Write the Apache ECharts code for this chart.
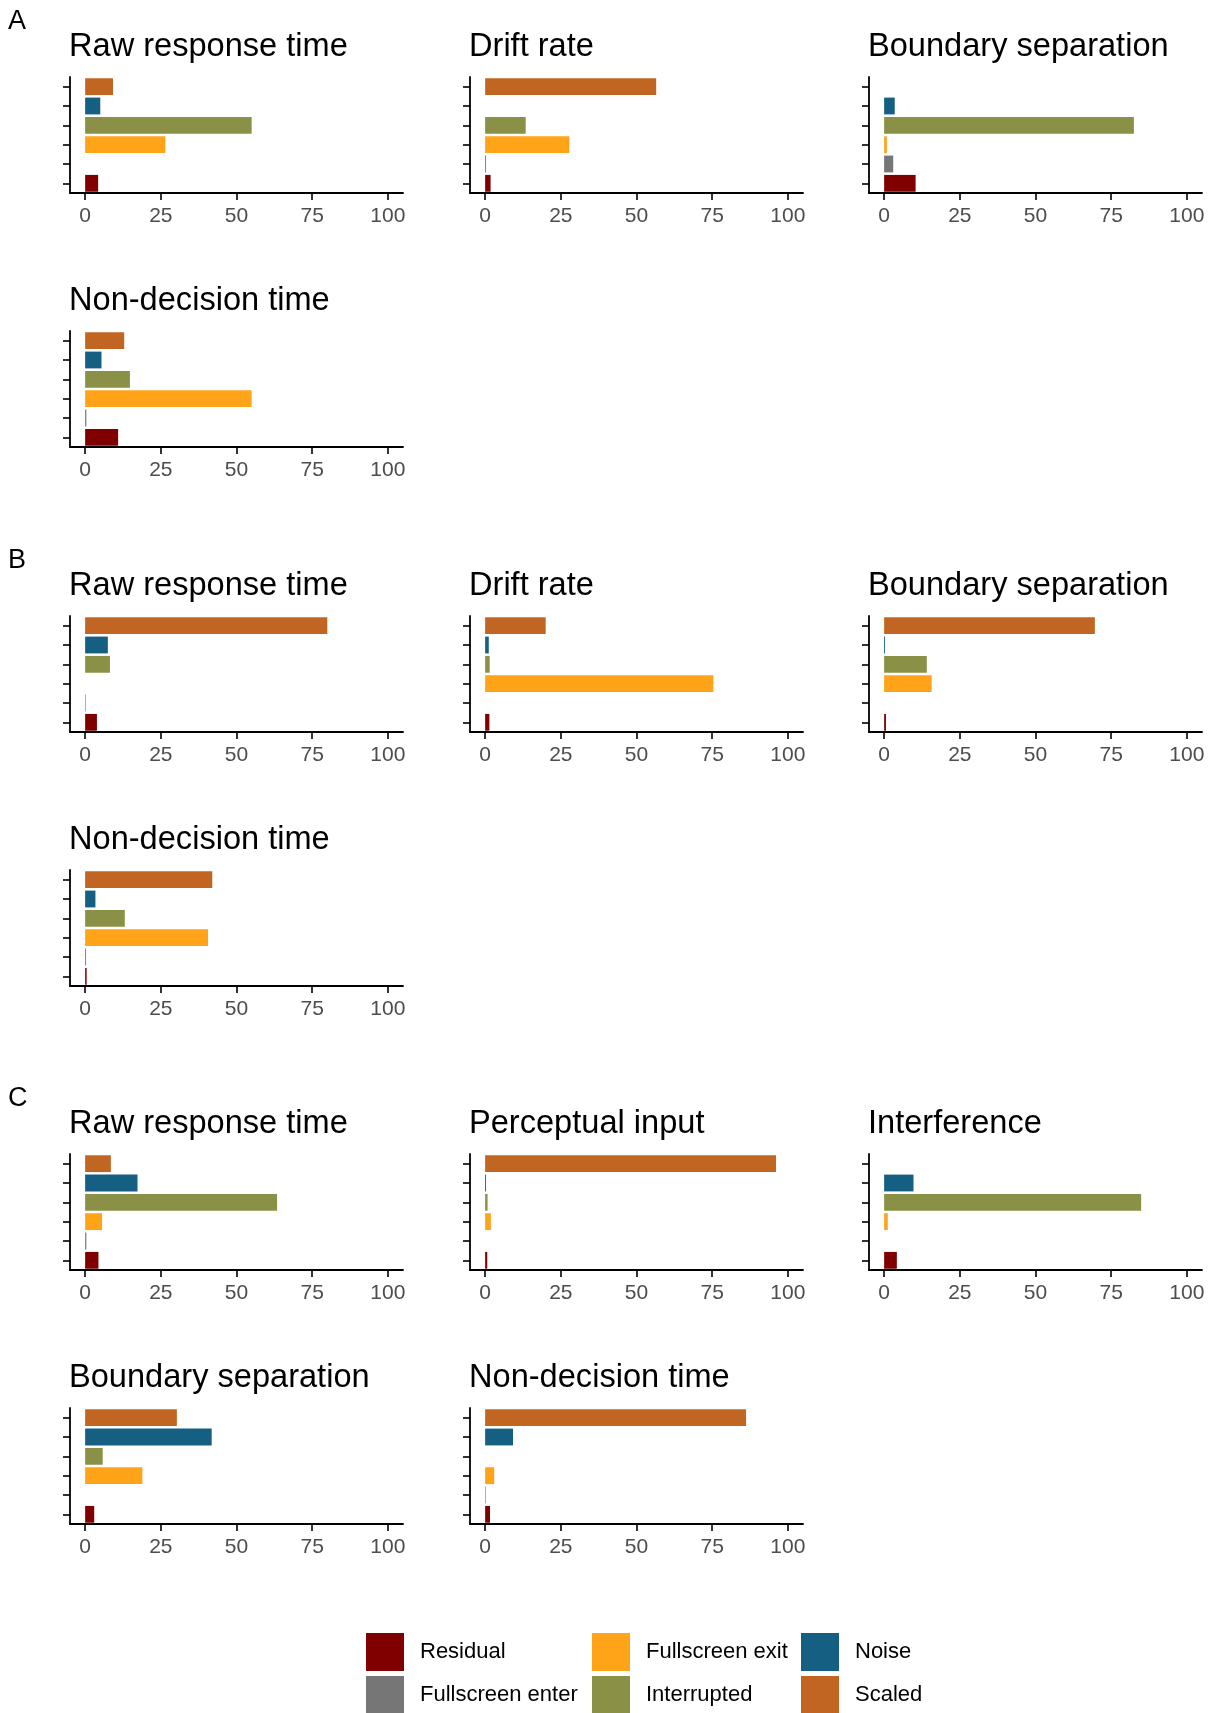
<!DOCTYPE html>
<html>
<head>
<meta charset="utf-8">
<title>Component attribution</title>
<script src="https://cdn.jsdelivr.net/npm/echarts@6/dist/echarts.min.js"></script>
<style>
  html, body { margin: 0; padding: 0; background: #fff; }
  #main { width: 1218px; height: 1713px; }
</style>
</head>
<body>
<div id="main"></div>
<script>
// Categories, listed bottom to top along each panel's y axis
const categories = ['Residual', 'Fullscreen enter', 'Fullscreen exit', 'Interrupted', 'Noise', 'Scaled'];
const categoryColors = ['#800000', '#767676', '#FFA319', '#8A9045', '#155F83', '#C16622'];
const xTicks = [0, 25, 50, 75, 100];

// Percentage values per panel (same order as categories)
const A_raw = [4.3, 0, 26.5, 55.0, 5.0, 9.2];
const A_drift = [1.8, 0.3, 27.8, 13.4, 0, 56.5];
const A_boundary = [10.4, 3.0, 0.9, 82.5, 3.5, 0];
const A_nondecision = [10.9, 0.4, 55.0, 14.8, 5.4, 12.9];

const B_raw = [3.9, 0.2, 0, 8.2, 7.5, 80.0];
const B_drift = [1.4, 0, 75.4, 1.5, 1.2, 20.0];
const B_boundary = [0.6, 0, 15.7, 14.1, 0.3, 69.6];
const B_nondecision = [0.5, 0.3, 40.6, 13.1, 3.4, 42.0];

const C_raw = [4.4, 0.4, 5.6, 63.4, 17.3, 8.5];
const C_perceptual = [0.7, 0, 1.9, 0.8, 0.3, 96.1];
const C_interference = [4.2, 0, 1.2, 84.9, 9.7, 0];
const C_boundary = [3.0, 0, 18.9, 5.8, 41.8, 30.3];
const C_nondecision = [1.6, 0.2, 3.0, 0, 9.2, 86.2];

// Panel titles and their data, placed by row / column
const panels = [
  { title: 'Raw response time', values: A_raw, row: 0, col: 0 },
  { title: 'Drift rate', values: A_drift, row: 0, col: 1 },
  { title: 'Boundary separation', values: A_boundary, row: 0, col: 2 },
  { title: 'Non-decision time', values: A_nondecision, row: 1, col: 0 },
  { title: 'Raw response time', values: B_raw, row: 2, col: 0 },
  { title: 'Drift rate', values: B_drift, row: 2, col: 1 },
  { title: 'Boundary separation', values: B_boundary, row: 2, col: 2 },
  { title: 'Non-decision time', values: B_nondecision, row: 3, col: 0 },
  { title: 'Raw response time', values: C_raw, row: 4, col: 0 },
  { title: 'Perceptual input', values: C_perceptual, row: 4, col: 1 },
  { title: 'Interference', values: C_interference, row: 4, col: 2 },
  { title: 'Boundary separation', values: C_boundary, row: 5, col: 0 },
  { title: 'Non-decision time', values: C_nondecision, row: 5, col: 1 }
];

// Section letters
const sections = [
  { label: 'A', row: 0 },
  { label: 'B', row: 2 },
  { label: 'C', row: 4 }
];

// Layout
const colLeft = [70, 470, 869];
const rowTop = [77, 331, 616, 870, 1154, 1408];
const plotW = 333;
const plotH = 116;
const FONT = "'Liberation Sans', Arial, Helvetica, sans-serif";
const TITLE_SIZE = 32.6;
const LETTER_SIZE = 27;
const INK = '#000000';

const grid = [], xAxis = [], yAxis = [], series = [], graphic = [];

panels.forEach((p, i) => {
  const left = colLeft[p.col];
  const top = rowTop[p.row];
  grid.push({ left: left, top: top, width: plotW, height: plotH, containLabel: false });

  xAxis.push({
    type: 'value', gridIndex: i, min: -5, max: 105,
    splitLine: { show: false },
    axisLine: { show: true, onZero: false, lineStyle: { color: INK, width: 1.8 } },
    axisTick: { show: true, length: 7, lineStyle: { color: INK, width: 1.6 }, customValues: xTicks },
    axisLabel: { show: true, customValues: xTicks, margin: 13, fontSize: 21, color: '#4D4D4D', fontFamily: FONT }
  });

  yAxis.push({
    type: 'category', gridIndex: i, data: categories, boundaryGap: true,
    axisLine: { show: true, onZero: false, lineStyle: { color: INK, width: 1.8 } },
    axisTick: { show: true, alignWithLabel: true, length: 7, lineStyle: { color: INK, width: 1.6 } },
    axisLabel: { show: false },
    splitLine: { show: false }
  });

  categories.forEach((cat, k) => {
    series.push({
      type: 'bar', name: cat, xAxisIndex: i, yAxisIndex: i,
      stack: 'panel' + i,
      barWidth: '87%',
      silent: true,
      itemStyle: { color: categoryColors[k] },
      data: categories.map((c, j) => (j === k ? p.values[j] : '-'))
    });
  });

  // Panel title, baseline about 21px above the plot area
  graphic.push({
    type: 'text', left: left - 1, top: top - 21 - TITLE_SIZE * 0.905 + 4,
    style: { text: p.title, fill: INK, font: TITLE_SIZE + 'px ' + FONT }
  });
});

sections.forEach(s => {
  graphic.push({
    type: 'text', left: 8, top: rowTop[s.row] - 48 - LETTER_SIZE * 0.905 + 3,
    style: { text: s.label, fill: INK, font: LETTER_SIZE + 'px ' + FONT }
  });
});

// Legend laid out in three columns of two keys
const legendCols = [categories.slice(0, 2), categories.slice(2, 4), categories.slice(4, 6)];
const legendLeft = [366, 592, 801];
const legend = legendCols.map((names, c) => ({
  data: names, orient: 'vertical', left: legendLeft[c], top: 1633, height: 120,
  padding: 0,
  icon: 'rect', itemWidth: 38, itemHeight: 38, itemGap: 5,
  selectedMode: false,
  textStyle: { fontSize: 22, color: INK, fontFamily: FONT, padding: [10, 0, 0, 11] }
}));

const chart = echarts.init(document.getElementById('main'), null, { renderer: 'canvas' });
chart.setOption({
  backgroundColor: '#ffffff',
  animation: false,
  grid: grid,
  xAxis: xAxis,
  yAxis: yAxis,
  series: series,
  legend: legend,
  graphic: graphic
});
</script>
</body>
</html>
